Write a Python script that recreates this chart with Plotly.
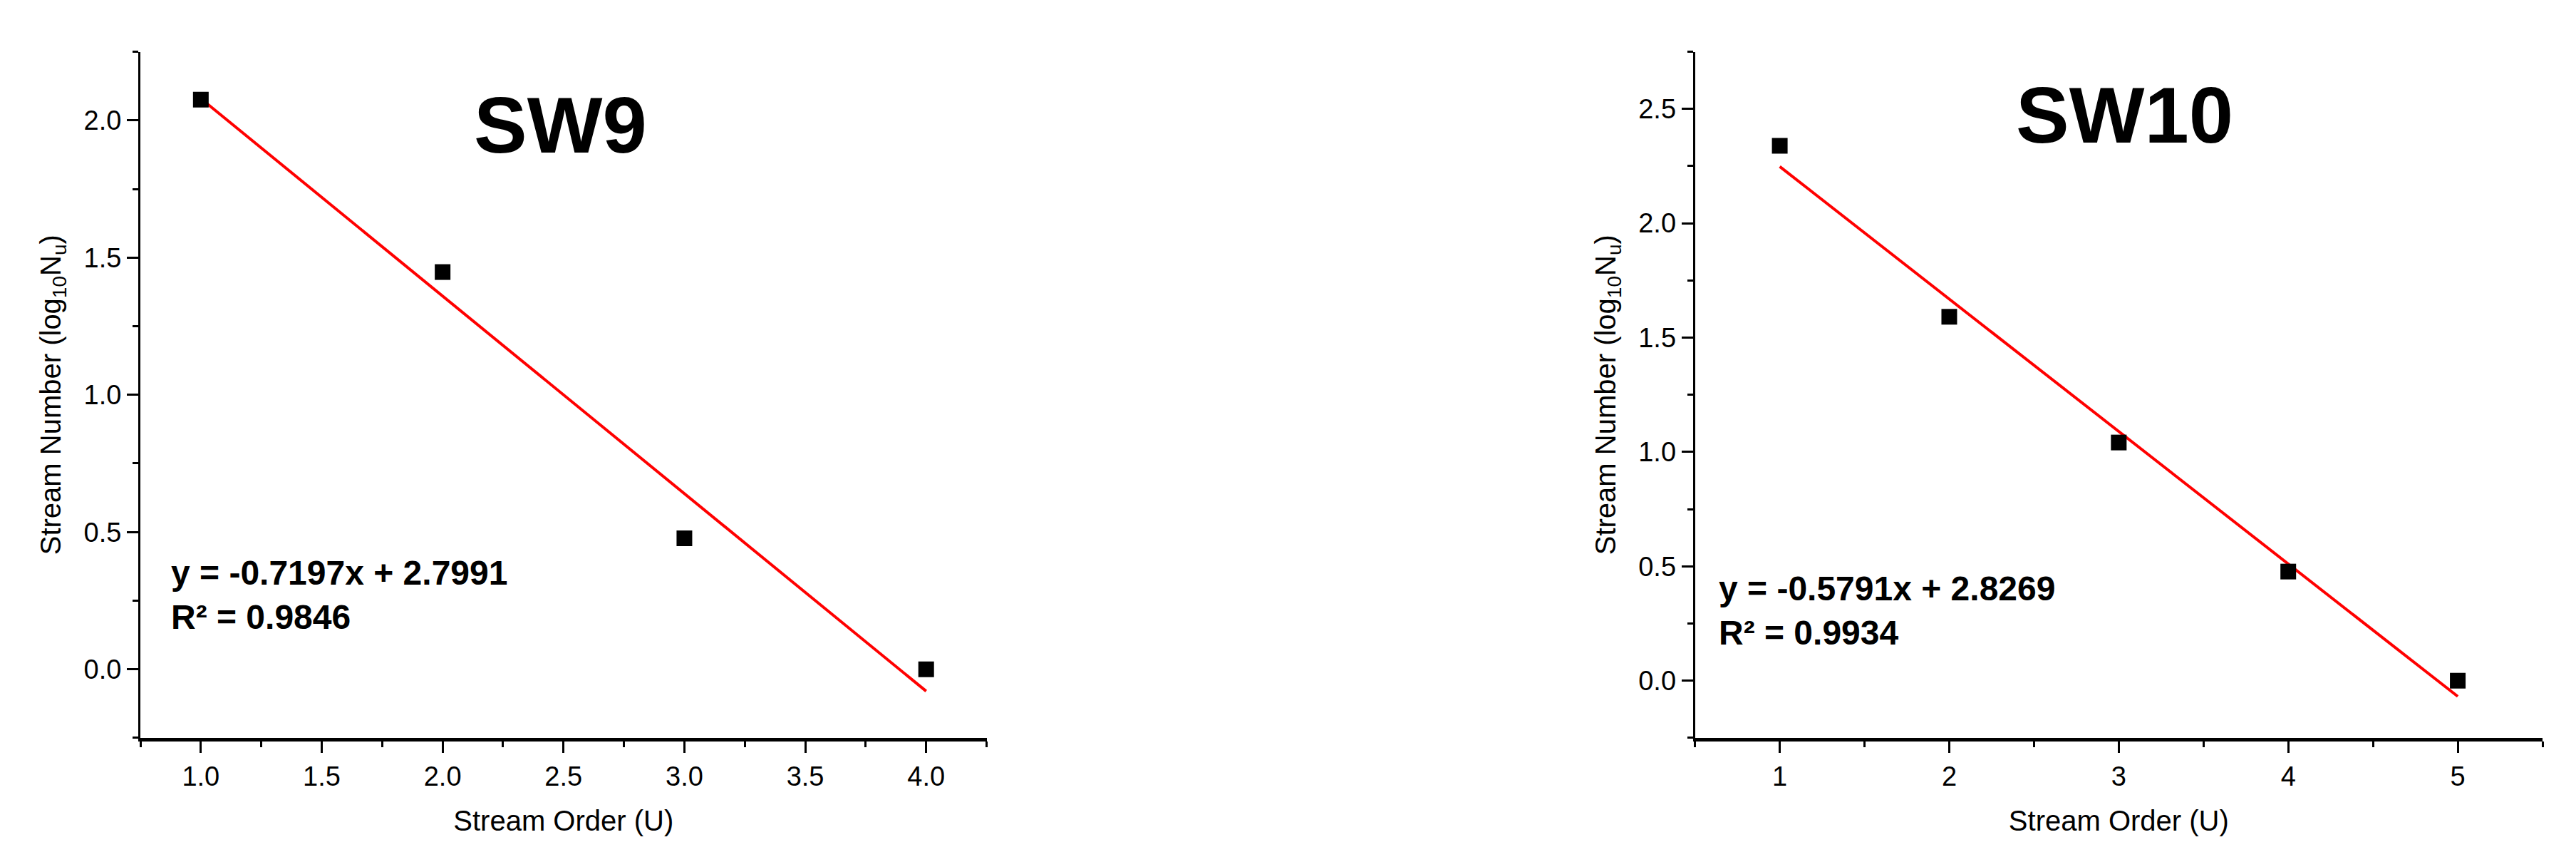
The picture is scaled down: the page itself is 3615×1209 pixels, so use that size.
import plotly.graph_objects as go

# SW9 basin: stream order vs log10 of stream number
sw9_order = [1, 2, 3, 4]
sw9_lognu = [2.0755, 1.4472, 0.4771, 0.0]
sw9_slope = -0.7197
sw9_intercept = 2.7991
sw9_r2 = 0.9846

# SW10 basin
sw10_order = [1, 2, 3, 4, 5]
sw10_lognu = [2.3385, 1.5911, 1.0414, 0.4771, 0.0]
sw10_slope = -0.5791
sw10_intercept = 2.8269
sw10_r2 = 0.9934

FONT = "Liberation Sans, Arial, sans-serif"

fig = go.Figure()


def add_panel(fig, xs, ys, slope, intercept, xa, ya):
    # fitted line over the data span
    fx = [min(xs), max(xs)]
    fy = [slope * v + intercept for v in fx]
    fig.add_trace(go.Scatter(x=fx, y=fy, mode="lines", line=dict(color="#ff0000", width=4),
                             xaxis=xa, yaxis=ya, showlegend=False))
    fig.add_trace(go.Scatter(x=xs, y=ys, mode="markers",
                             marker=dict(symbol="square", size=22, color="black"),
                             xaxis=xa, yaxis=ya, showlegend=False))


add_panel(fig, sw9_order, sw9_lognu, sw9_slope, sw9_intercept, "x", "y")
add_panel(fig, sw10_order, sw10_lognu, sw10_slope, sw10_intercept, "x2", "y2")

tickfont = dict(family=FONT, size=38, color="black")
titlefont = dict(family=FONT, size=40, color="black")
ytitle = "Stream Number (log<sub>10</sub>N<sub>u</sub>)"

xcommon = dict(showline=True, linecolor="black", linewidth=5, ticks="outside", ticklen=16,
               tickwidth=3, tickcolor="black", showgrid=False, zeroline=False,
               tickfont=tickfont, title=dict(text="Stream Order (U)", font=titlefont, standoff=30))
ycommon = dict(showline=True, linecolor="black", linewidth=3, ticks="outside", ticklen=16,
               tickwidth=3, tickcolor="black", showgrid=False, zeroline=False,
               tickfont=tickfont, tickformat=".1f", dtick=0.5, tick0=0,
               minor=dict(dtick=0.25, ticks="outside", ticklen=8, tickwidth=3, tickcolor="black"),
               title=dict(text=ytitle, font=titlefont, standoff=20))

fig.update_layout(
    width=3615, height=1209,
    margin=dict(l=0, r=0, t=0, b=0),
    plot_bgcolor="white", paper_bgcolor="white",
    xaxis=dict(xcommon, domain=[0.0545, 0.383], anchor="y", range=[0.75, 4.25],
               tick0=1, dtick=0.5, tickformat=".1f",
               minor=dict(dtick=0.25, ticks="outside", ticklen=8, tickwidth=3, tickcolor="black")),
    yaxis=dict(ycommon, domain=[0.144, 0.94], anchor="x", range=[-0.25, 2.25]),
    xaxis2=dict(xcommon, domain=[0.658, 0.987], anchor="y2", range=[0.5, 5.5],
                tick0=1, dtick=1,
                minor=dict(dtick=0.5, ticks="outside", ticklen=8, tickwidth=3, tickcolor="black")),
    yaxis2=dict(ycommon, domain=[0.144, 0.94], anchor="x2", range=[-0.25, 2.75]),
)

# panel titles and regression equations
fig.add_annotation(text="<b>SW9</b>", xref="paper", yref="paper", x=786 / 3615, y=1 - 175 / 1209,
                   xanchor="center", yanchor="middle", showarrow=False,
                   font=dict(family=FONT, size=112, color="black"))
fig.add_annotation(text="<b>SW10</b>", xref="paper", yref="paper", x=2981 / 3615, y=1 - 162 / 1209,
                   xanchor="center", yanchor="middle", showarrow=False,
                   font=dict(family=FONT, size=112, color="black"))

eqfont = dict(family=FONT, size=48, color="black")
fig.add_annotation(text="<b>y = %.4fx + %.4f<br>R² = %.4f</b>" % (sw9_slope, sw9_intercept, sw9_r2),
                   xref="paper", yref="paper", x=238 / 3615, y=1 - 834 / 1209,
                   xanchor="left", yanchor="middle", align="left", showarrow=False, font=eqfont)
fig.add_annotation(text="<b>y = %.4fx + %.4f<br>R² = %.4f</b>" % (sw10_slope, sw10_intercept, sw10_r2),
                   xref="paper", yref="paper", x=2410 / 3615, y=1 - 856 / 1209,
                   xanchor="left", yanchor="middle", align="left", showarrow=False, font=eqfont)

fig.write_html("out.html", config={"displayModeBar": False},
               post_script="document.body.style.margin='0';")
